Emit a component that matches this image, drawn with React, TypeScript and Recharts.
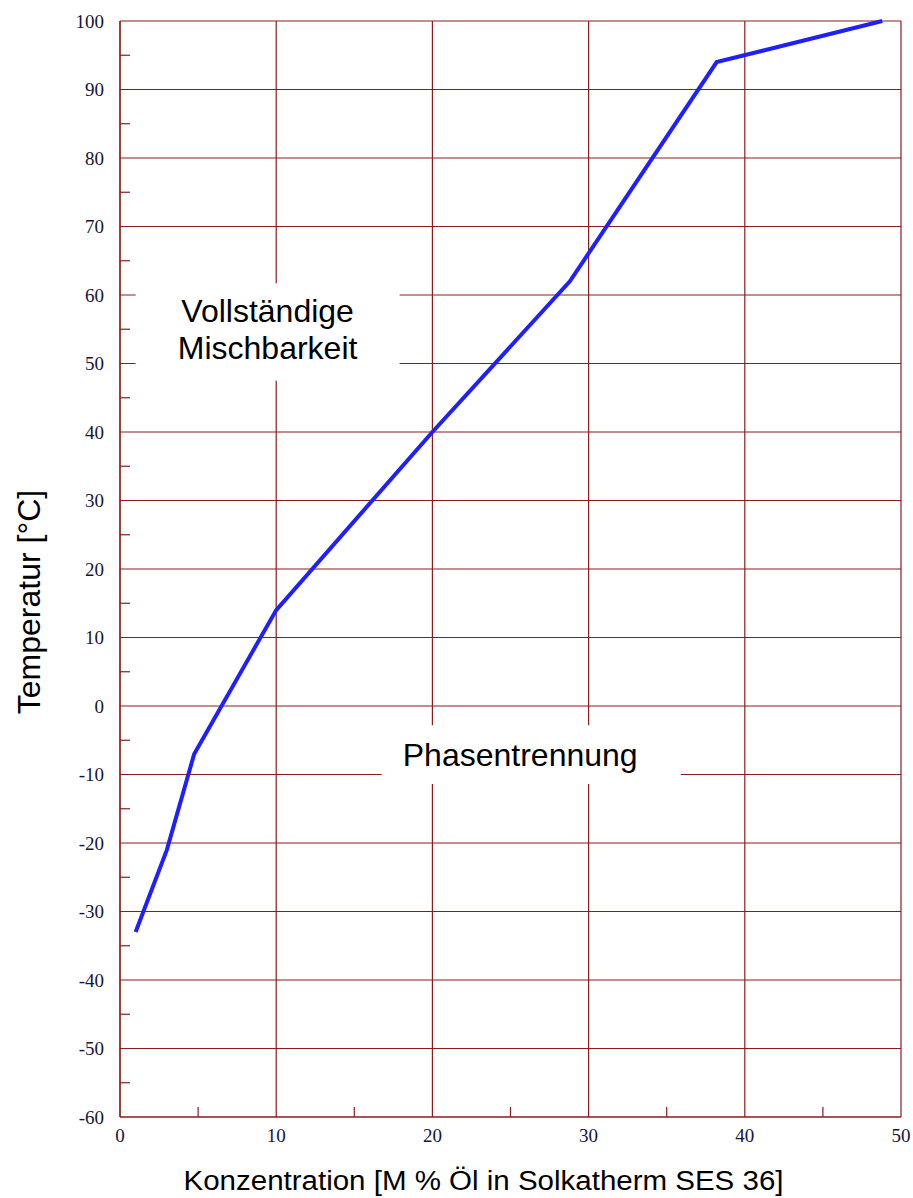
import { LineChart, Line, XAxis, YAxis, CartesianGrid, ReferenceArea } from "recharts"

// Mischbarkeitskurve: Konzentration [M % Öl] vs. Temperatur [°C]
const concentration = [1, 3, 4.75, 10, 20, 28.8, 38.2, 48.8]
const temperature = [-33, -21, -7, 14, 40, 62, 94, 100]

const xTicks = [0, 10, 20, 30, 40, 50]
const xMinorTicks = [5, 15, 25, 35, 45]
const yTicks = [-60, -50, -40, -30, -20, -10, 0, 10, 20, 30, 40, 50, 60, 70, 80, 90, 100]
const yMinorTicks = [-55, -45, -35, -25, -15, -5, 5, 15, 25, 35, 45, 55, 65, 75, 85, 95]

// region labels with their white backing boxes (data units)
const regions = [
  { lines: ["Vollständige", "Mischbarkeit"], x1: 1, x2: 17.9, y1: 47.5, y2: 61.7, dx: 0 },
  { lines: ["Phasentrennung"], x1: 16.75, x2: 35.9, y1: -11.4, y2: -2.8, dx: -11 },
]

const data = concentration.map((c, i) => ({ c, t: temperature[i] }))
const allX = [...xTicks, ...xMinorTicks].sort((a, b) => a - b)
const allY = [...yTicks, ...yMinorTicks].sort((a, b) => a - b)

const gridColor = "#8b1c1c"
const serif = "'Liberation Serif', 'Times New Roman', serif"
const sansFont = "'Liberation Sans', Arial, sans-serif"
const tickFill = "#15153a"
const GAP = 16 // distance between axis line and tick label

function YTick({ x, y, payload }: any) {
  const v = payload.value
  if (!yTicks.includes(v)) {
    return <line x1={x + GAP} x2={x + GAP + 10} y1={y} y2={y} stroke={gridColor} strokeWidth={1.2} />
  }
  return (
    <text x={x} y={y} textAnchor="end" dominantBaseline="central" fontFamily={serif} fontSize={19} fill={tickFill}>
      {v}
    </text>
  )
}

function XTick({ x, y, payload }: any) {
  const v = payload.value
  if (!xTicks.includes(v)) {
    return <line x1={x} x2={x} y1={y - 12} y2={y - 22} stroke={gridColor} strokeWidth={1.2} />
  }
  return (
    <text x={x} y={y} dy="0.71em" textAnchor="middle" fontFamily={serif} fontSize={19} fill={tickFill}>
      {v}
    </text>
  )
}

function RegionLabel({ viewBox, lines, dx }: any) {
  const cx = viewBox.x + viewBox.width / 2 + dx
  const cy = viewBox.y + viewBox.height / 2
  const first = lines.length > 1 ? cy - 10 : cy + 11
  return (
    <text x={cx} y={first} textAnchor="middle" fontFamily={sansFont} fontSize={32} fill="#000">
      {lines.map((l: string, i: number) => (
        <tspan key={l} x={cx} y={first + i * 37}>
          {l}
        </tspan>
      ))}
    </text>
  )
}

export default function App() {
  return (
    <div style={{ position: "absolute", left: 0, top: 0, background: "#fff" }}>
      <LineChart width={913} height={1198} data={data} margin={{ top: 21, right: 12, bottom: 41, left: 0 }}>
        <CartesianGrid stroke={gridColor} strokeWidth={1.2} horizontalValues={yTicks} verticalValues={xTicks} />
        {regions.map((r) => (
          <ReferenceArea
            key={r.lines[0]}
            x1={r.x1}
            x2={r.x2}
            y1={r.y1}
            y2={r.y2}
            fill="#fff"
            fillOpacity={1}
            stroke="none"
            label={(p: any) => <RegionLabel viewBox={p.viewBox} lines={r.lines} dx={r.dx} />}
          />
        ))}
        <XAxis
          dataKey="c"
          type="number"
          domain={[0, 50]}
          ticks={allX}
          interval={0}
          height={40}
          tickLine={false}
          tickSize={0}
          tickMargin={12}
          axisLine={{ stroke: gridColor, strokeWidth: 1.2 }}
          tick={<XTick />}
          label={(p: any) => (
            <text
              x={p.viewBox.x + p.viewBox.width / 2 - 27}
              y={p.viewBox.y + 73}
              textAnchor="middle"
              fontFamily={sansFont}
              fontSize={27}
              textLength={600}
              lengthAdjust="spacingAndGlyphs"
              fill="#000"
            >
              Konzentration [M % Öl in Solkatherm SES 36]
            </text>
          )}
        />
        <YAxis
          type="number"
          domain={[-60, 100]}
          ticks={allY}
          interval={0}
          width={120}
          tickLine={false}
          tickSize={0}
          tickMargin={GAP}
          axisLine={{ stroke: gridColor, strokeWidth: 1.2 }}
          tick={<YTick />}
          label={(p: any) => {
            const x = p.viewBox.x + 40
            const y = p.viewBox.y + p.viewBox.height / 2 + 33
            return (
              <text
                x={x}
                y={y}
                transform={`rotate(-90 ${x} ${y})`}
                textAnchor="middle"
                fontFamily={sansFont}
                fontSize={32}
                fill="#000"
              >
                Temperatur [°C]
              </text>
            )
          }}
        />
        <Line
          dataKey="t"
          type="linear"
          stroke="#1f1fff"
          strokeWidth={4}
          dot={false}
          isAnimationActive={false}
        />
      </LineChart>
    </div>
  )
}
